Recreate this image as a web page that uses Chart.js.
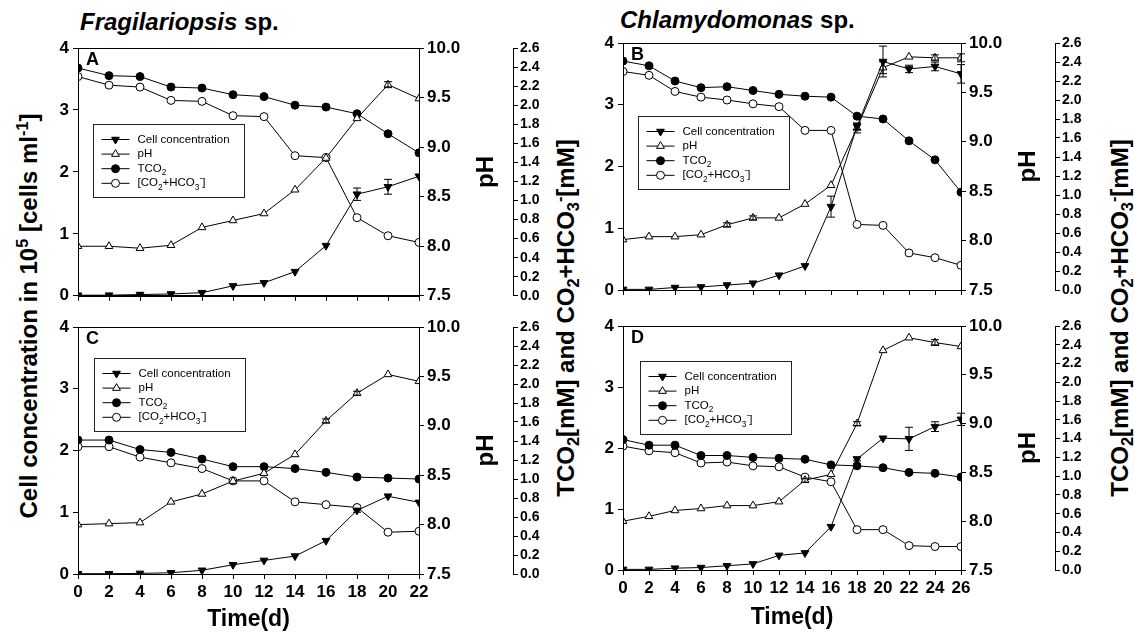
<!DOCTYPE html>
<html>
<head>
<meta charset="utf-8">
<script src="https://cdn.jsdelivr.net/npm/chart.js@4.4.0/dist/chart.umd.min.js"></script>
<style>
  body { margin: 0; background: #fff; width: 1134px; height: 638px; position: relative; overflow: hidden;
         font-family: "Liberation Sans", Arial, sans-serif; color: #000; }
  canvas { position: absolute; }
  .lbl { position: absolute; font-weight: bold; white-space: nowrap; line-height: 1.2; }
  .rot { transform: translate(-50%, -50%) rotate(-90deg); }
  sup, sub { font-size: 68%; line-height: 0; }
</style>
</head>
<body>

<div class="lbl" style="left:80px;top:8px;font-size:24px"><i>Fragilariopsis</i> sp.</div>
<div class="lbl" style="left:620px;top:6px;font-size:24px"><i>Chlamydomonas</i> sp.</div>

<div class="lbl rot" style="left:29px;top:316px;font-size:24px">Cell concentration in 10<sup>5</sup> [cells ml<sup>-1</sup>]</div>
<div class="lbl rot" style="left:566px;top:318px;font-size:24px">TCO<sub>2</sub>[mM] and CO<sub>2</sub>+HCO<sub>3</sub><sup>-</sup>[mM]</div>
<div class="lbl rot" style="left:1120px;top:318px;font-size:24px">TCO<sub>2</sub>[mM] and CO<sub>2</sub>+HCO<sub>3</sub><sup>-</sup>[mM]</div>

<canvas id="cA" width="520" height="280" style="left:40px;top:30px"></canvas>
<canvas id="cB" width="549" height="285" style="left:585px;top:25px"></canvas>
<canvas id="cC" width="520" height="333" style="left:40px;top:305px"></canvas>
<canvas id="cD" width="549" height="333" style="left:585px;top:305px"></canvas>

<script>
// ---- data ----
const daysAC = [0, 2, 4, 6, 8, 10, 12, 14, 16, 18, 20, 22];
const daysBD = [0, 2, 4, 6, 8, 10, 12, 14, 16, 18, 20, 22, 24, 26];

// A: Fragilariopsis, cell conc. (10^5 cells/ml), pH, TCO2 (mM), CO2+HCO3- (mM)
const aCell     = [0.01, 0.01, 0.02, 0.03, 0.05, 0.16, 0.21, 0.39, 0.81, 1.64, 1.76, 1.93];
const aCellErr  = [0, 0, 0, 0, 0, 0, 0, 0, 0, 0.10, 0.12, 0];
const aPH       = [8.00, 8.00, 7.98, 8.01, 8.19, 8.26, 8.33, 8.57, 8.89, 9.29, 9.63, 9.49];
const aPHErr    = [0, 0, 0, 0, 0, 0, 0, 0, 0, 0, 0.03, 0];
const aTCO2     = [2.39, 2.31, 2.30, 2.19, 2.18, 2.11, 2.09, 2.00, 1.98, 1.91, 1.70, 1.50];
const aCO2HCO3  = [2.30, 2.21, 2.19, 2.05, 2.04, 1.89, 1.88, 1.47, 1.45, 0.82, 0.63, 0.56];

// B: Chlamydomonas
const bCell     = [0.01, 0.01, 0.04, 0.05, 0.08, 0.11, 0.24, 0.39, 1.35, 2.65, 3.70, 3.58, 3.62, 3.50];
const bCellErr  = [0, 0, 0, 0, 0, 0, 0, 0, 0.17, 0.05, 0.25, 0.06, 0.07, 0.15];
const bPH       = [8.01, 8.04, 8.04, 8.06, 8.16, 8.23, 8.23, 8.37, 8.56, 9.14, 9.75, 9.86, 9.85, 9.85];
const bPHErr    = [0, 0, 0, 0, 0.02, 0.02, 0, 0, 0, 0.05, 0.06, 0, 0.03, 0.04];
const bTCO2     = [2.41, 2.36, 2.20, 2.13, 2.14, 2.10, 2.06, 2.04, 2.03, 1.83, 1.80, 1.57, 1.37, 1.03];
const bCO2HCO3  = [2.30, 2.26, 2.09, 2.03, 2.00, 1.96, 1.93, 1.68, 1.68, 0.69, 0.68, 0.39, 0.34, 0.26];

// C: Fragilariopsis
const cCell     = [0.005, 0.005, 0.01, 0.02, 0.06, 0.15, 0.22, 0.29, 0.54, 1.03, 1.26, 1.16];
const cCellErr  = [0, 0, 0, 0, 0, 0, 0, 0, 0, 0.03, 0, 0];
const cPH       = [8.00, 8.01, 8.02, 8.23, 8.31, 8.44, 8.52, 8.71, 9.05, 9.33, 9.52, 9.45];
const cPHErr    = [0, 0, 0, 0, 0, 0, 0, 0, 0.02, 0.02, 0, 0];
const cTCO2     = [1.41, 1.41, 1.31, 1.28, 1.21, 1.13, 1.13, 1.11, 1.07, 1.02, 1.01, 1.00];
const cCO2HCO3  = [1.34, 1.34, 1.23, 1.17, 1.11, 0.98, 0.98, 0.76, 0.73, 0.70, 0.44, 0.45];

// D: Chlamydomonas
const dCell     = [0.01, 0.01, 0.03, 0.04, 0.07, 0.10, 0.24, 0.28, 0.71, 1.82, 2.16, 2.15, 2.35, 2.47];
const dCellErr  = [0, 0, 0, 0, 0, 0, 0, 0, 0, 0.03, 0, 0.19, 0.08, 0.10];
const dPH       = [8.00, 8.05, 8.11, 8.13, 8.16, 8.16, 8.20, 8.42, 8.48, 9.00, 9.75, 9.88, 9.83, 9.79];
const dPHErr    = [0, 0, 0, 0, 0, 0, 0, 0.02, 0, 0.02, 0, 0, 0.03, 0];
const dTCO2     = [1.39, 1.33, 1.33, 1.22, 1.22, 1.20, 1.19, 1.18, 1.12, 1.11, 1.09, 1.04, 1.03, 0.99];
const dCO2HCO3  = [1.32, 1.27, 1.25, 1.14, 1.15, 1.11, 1.10, 0.99, 0.94, 0.43, 0.43, 0.26, 0.25, 0.25];

const cellTicks = [0, 1, 2, 3, 4];
const legendText = [
  [['Cell concentration', 'n']],
  [['pH', 'n']],
  [['TCO', 'n'], ['2', 'sub']],
  [['[CO', 'n'], ['2', 'sub'], ['+HCO', 'n'], ['3', 'sub'], ['-', 'sup'], [']', 'n']]
];

const FONT = '"Liberation Sans", Arial, sans-serif';

function pts(days, vals) { return days.map((d, i) => ({ x: d, y: vals[i] })); }

function richText(ctx, parts, x, y, size) {
  parts.forEach(([t, k]) => {
    const s = k === 'n' ? size : size * 0.72;
    const dy = k === 'sub' ? size * 0.35 : (k === 'sup' ? -size * 0.4 : 0);
    ctx.font = s + 'px ' + FONT;
    ctx.fillText(t, x, y + dy);
    x += ctx.measureText(t).width;
  });
}

// frame, panel letter, "pH" title
const framePlugin = {
  id: 'frame',
  afterDraw(chart, args, opts) {
    const { ctx, chartArea: a } = chart;
    ctx.save();
    ctx.strokeStyle = '#000';
    ctx.lineWidth = 1;
    ctx.strokeRect(Math.round(a.left) + 0.5, Math.round(a.top) + 0.5,
                   Math.round(a.right - a.left), Math.round(a.bottom - a.top));
    ctx.fillStyle = '#000';
    ctx.font = 'bold 18px ' + FONT;
    ctx.textBaseline = 'middle';
    ctx.fillText(opts.letter, a.left + 8, a.top + 12);
    const y1 = chart.scales.y1;
    ctx.translate(y1.right - 27, (a.top + a.bottom) / 2);
    ctx.rotate(-Math.PI / 2);
    ctx.textAlign = 'center';
    ctx.font = 'bold 24px ' + FONT;
    ctx.fillText('pH', 0, 0);
    ctx.restore();
  }
};

const errorBarPlugin = {
  id: 'errorBars',
  afterDatasetsDraw(chart) {
    const ctx = chart.ctx;
    chart.data.datasets.forEach((ds, i) => {
      if (!ds.errors) return;
      const meta = chart.getDatasetMeta(i);
      const ys = chart.scales[ds.yAxisID];
      ctx.save();
      ctx.strokeStyle = '#000';
      ctx.lineWidth = 1;
      ds.data.forEach((p, j) => {
        const e = ds.errors[j];
        if (!e) return;
        const x = meta.data[j].x;
        const lo = ys.getPixelForValue(p.y - e), hi = ys.getPixelForValue(p.y + e);
        ctx.beginPath();
        ctx.moveTo(x, lo); ctx.lineTo(x, hi);
        ctx.moveTo(x - 4, lo); ctx.lineTo(x + 4, lo);
        ctx.moveTo(x - 4, hi); ctx.lineTo(x + 4, hi);
        ctx.stroke();
      });
      ctx.restore();
    });
  }
};

const boxLegendPlugin = {
  id: 'boxLegend',
  afterDraw(chart, args, opts) {
    const { ctx, chartArea: a } = chart;
    const bx = Math.round(a.left + opts.dx) + 0.5, by = Math.round(a.top + opts.dy) + 0.5;
    ctx.save();
    ctx.fillStyle = '#fff';
    ctx.fillRect(bx, by, 151, 73);
    ctx.strokeStyle = '#222';
    ctx.lineWidth = 1;
    ctx.strokeRect(bx, by, 151, 73);
    chart.data.datasets.forEach((ds, k) => {
      const y = by + 15 + k * 14.6;
      ctx.strokeStyle = '#000';
      ctx.beginPath();
      ctx.moveTo(bx + 8, y); ctx.lineTo(bx + 36, y);
      ctx.stroke();
      ctx.fillStyle = ds.pointBackgroundColor;
      ctx.strokeStyle = '#000';
      ctx.lineWidth = 1;
      Chart.helpers.drawPoint(ctx, {
        pointStyle: ds.pointStyle, radius: ds.pointRadius,
        rotation: ds.pointRotation || 0, borderWidth: 1
      }, bx + 22, y);
      ctx.fillStyle = '#000';
      ctx.textBaseline = 'middle';
      richText(ctx, legendText[k], bx + 44, y, 11.5);
    });
    ctx.restore();
  }
};

function fixW(w) { return s => { s.width = w; }; }
function fixH(h) { return s => { s.height = h; }; }

function makePanel(id, p) {
  const line = (vals, err, axis, style, fill, rot, r) => ({
    data: pts(p.days, vals), errors: err, yAxisID: axis,
    borderColor: '#000', borderWidth: 1, tension: 0,
    pointStyle: style, pointRotation: rot, pointRadius: r,
    pointBackgroundColor: fill, pointBorderColor: '#000', pointBorderWidth: 1
  });
  const tickFont = { family: FONT, size: 17, weight: 'bold' };
  const axisBase = {
    border: { color: '#000', width: 1 },
    grid: { drawOnChartArea: false, color: '#000', tickLength: 5 }
  };
  new Chart(document.getElementById(id), {
    type: 'line',
    data: {
      datasets: [
        line(p.cell, p.cellErr, 'y', 'triangle', '#000', 180, 4.5),
        line(p.ph, p.phErr, 'y1', 'triangle', '#fff', 0, 4.5),
        line(p.tco2, null, 'y2', 'circle', '#000', 0, 4),
        line(p.co2hco3, null, 'y2', 'circle', '#fff', 0, 4)
      ]
    },
    options: {
      responsive: false,
      animation: false,
      layout: { padding: { top: p.padTop, left: 0, right: 0, bottom: 0 } },
      plugins: {
        legend: { display: false },
        tooltip: { enabled: false },
        frame: { letter: p.letter },
        boxLegend: { dx: p.legDx, dy: p.legDy }
      },
      scales: {
        x: {
          ...axisBase, type: 'linear', min: 0, max: p.days[p.days.length - 1],
          afterFit: fixH(p.xH),
          ticks: { display: p.showX, stepSize: 2, autoSkip: false, maxRotation: 0, padding: 3,
                   color: '#000', font: tickFont },
          title: { display: p.showX, text: 'Time(d)', color: '#000',
                   font: { family: FONT, size: 23, weight: 'bold' }, padding: { top: 0, bottom: p.titlePad } }
        },
        y: {
          ...axisBase, position: 'left', min: 0, max: 4, afterFit: fixW(38),
          afterBuildTicks: s => { s.ticks = cellTicks.map(v => ({ value: v })); },
          ticks: { color: '#000', font: tickFont, padding: 4 }
        },
        y1: {
          ...axisBase, position: 'right', min: 7.5, max: 10, afterFit: fixW(94),
          ticks: { stepSize: 0.5, color: '#000', font: tickFont, padding: 3, callback: v => v.toFixed(1) }
        },
        y2: {
          ...axisBase, position: 'right', min: 0, max: 2.6, afterFit: fixW(p.y2W),
          ticks: { stepSize: 0.2, autoSkip: false, color: '#000', padding: 2,
                   font: { family: FONT, size: 14, weight: 'bold' }, callback: v => v.toFixed(1) }
        }
      }
    },
    plugins: [framePlugin, errorBarPlugin, boxLegendPlugin]
  });
}

makePanel('cA', { days: daysAC, cell: aCell, cellErr: aCellErr, ph: aPH, phErr: aPHErr, tco2: aTCO2, co2hco3: aCO2HCO3,
  letter: 'A', padTop: 18, xH: 14, showX: false, titlePad: 0, y2W: 47, legDx: 15, legDy: 76 });
makePanel('cB', { days: daysBD, cell: bCell, cellErr: bCellErr, ph: bPH, phErr: bPHErr, tco2: bTCO2, co2hco3: bCO2HCO3,
  letter: 'B', padTop: 18, xH: 20, showX: false, titlePad: 0, y2W: 79, legDx: 15, legDy: 73 });
makePanel('cC', { days: daysAC, cell: cCell, cellErr: cCellErr, ph: cPH, phErr: cPHErr, tco2: cTCO2, co2hco3: cCO2HCO3,
  letter: 'C', padTop: 22, xH: 64, showX: true, titlePad: 5, y2W: 47, legDx: 16, legDy: 31 });
makePanel('cD', { days: daysBD, cell: dCell, cellErr: dCellErr, ph: dPH, phErr: dPHErr, tco2: dTCO2, co2hco3: dCO2HCO3,
  letter: 'D', padTop: 21, xH: 68, showX: true, titlePad: 7, y2W: 79, legDx: 17, legDy: 35 });
</script>
</body>
</html>
